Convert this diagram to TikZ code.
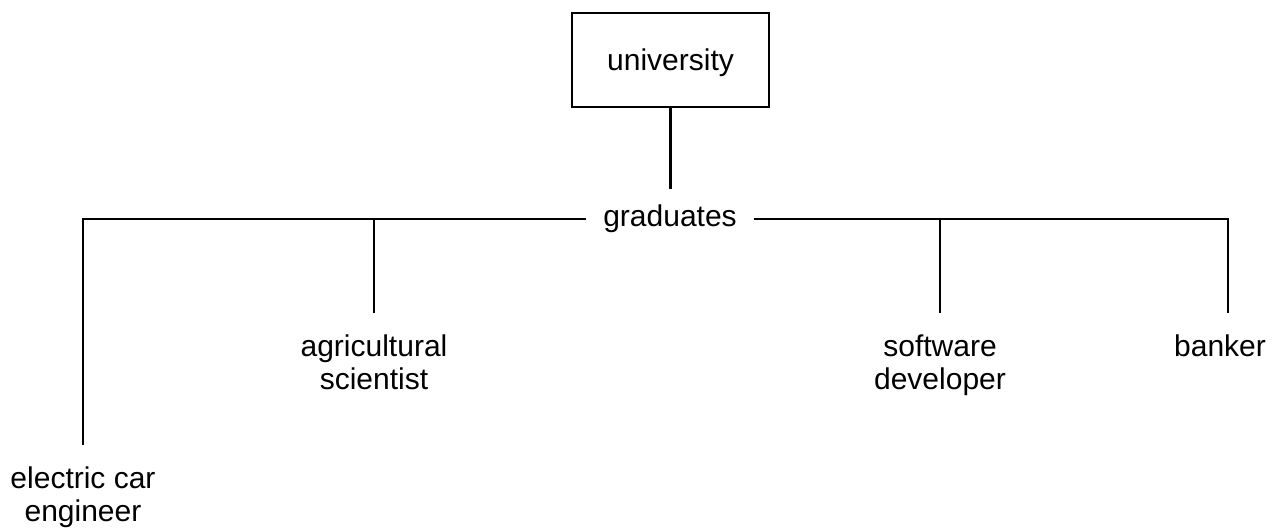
\documentclass[tikz,border=0pt]{standalone}
\usepackage{fontspec}
\setmainfont{Liberation Sans}
\tikzstyle{labeltext} = [font=\fontsize{15pt}{16.5pt}\selectfont]
\tikzstyle{rootnode} = [labeltext,draw=black,line width=1.4pt,minimum width=98.5pt,minimum height=47pt,text depth=0pt]
\tikzstyle{hubnode} = [labeltext,inner xsep=8pt,inner ysep=7.5pt]
\tikzstyle{jobnode} = [labeltext,align=center,anchor=north,inner ysep=10.5pt]

\begin{document}
\begin{tikzpicture}[x=0.5pt,y=-0.5pt,line width=1.2pt]
  \useasboundingbox (0,0) rectangle (1277,528);
  \node[rootnode] (uni)  at (670.5,60) {university};
  \node[hubnode]  (grad) at (670,219)  {graduates};
  \node[jobnode]  (elec) at (83,445)   {electric car\\engineer};
  \node[jobnode]  (agri) at (374,313)  {agricultural\\scientist};
  \node[jobnode]  (soft) at (940,313)  {software\\developer};
  \node[jobnode,xshift=-4pt] (bank) at (1228,313) {banker};

  \draw (uni.south) -- (uni.south |- grad.north);
  \draw (grad.west) -| (elec.north);
  \draw (grad.west) -| (agri.north);
  \draw (grad.east) -| (soft.north);
  \draw (grad.east) -| ([xshift=4pt]bank.north);
\end{tikzpicture}
\end{document}
